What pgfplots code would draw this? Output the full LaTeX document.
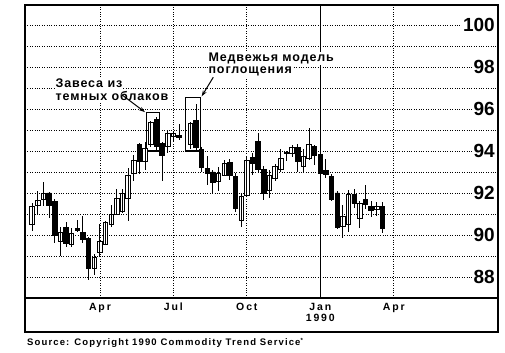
\documentclass[border=0pt]{standalone}
\usepackage{fontspec}
\setmainfont{Liberation Sans}
\newfontfamily\lsfont[LetterSpace=18]{Liberation Sans}
\newfontfamily\annfont[LetterSpace=7]{Liberation Sans}
\newfontfamily\srcfont[LetterSpace=12]{Liberation Sans}
\usepackage{pgfplots}
\usepackage{pgfplotstable}
\pgfplotsset{compat=1.18}
\usetikzlibrary{arrows.meta}

\pgfplotstableread{
w o h l c
1 90.5 91.5 90.2 91.35
2 91.4 92.1 90.95 91.65
3 91.7 92.5 91.4 92.0
4 92.0 92.05 90.8 91.4
5 91.6 91.7 89.6 90.0
6 89.7 90.4 89.0 90.1
7 90.35 90.6 89.45 89.6
8 89.55 90.35 89.45 90.05
9 90.3 90.7 90.15 90.2
10 90.1 90.9 89.6 89.8
11 89.85 89.9 87.85 88.4
12 88.4 89.1 88.1 88.95
13 89.15 90.5 89.0 89.7
14 89.55 90.65 89.5 90.6
15 90.5 91.45 90.4 91.0
16 91.0 92.2 90.95 91.75
17 91.1 92.2 91.05 92.0
18 91.75 93.2 90.65 92.85
19 92.95 93.8 92.55 93.55
20 94.3 94.4 92.9 93.5
21 93.5 94.45 93.1 94.1
22 94.3 95.45 94.2 95.35
23 95.5 95.6 94.05 94.2
24 94.35 94.45 92.55 93.8
25 94.2 94.95 93.9 94.85
26 94.68 94.95 94.45 94.84
27 94.75 95.3 94.5 94.65
29 94.3 95.4 94.1 95.3
30 95.45 96.25 94.05 94.15
31 94.05 94.2 93.0 93.2
32 93.15 93.75 92.4 92.95
33 93.0 93.1 92.0 92.5
34 92.55 93.25 92.1 92.95
35 92.85 93.55 92.8 93.4
36 93.45 93.6 92.6 92.85
37 92.8 92.95 91.1 91.25
38 90.7 91.95 90.4 91.85
39 91.9 93.75 91.85 93.55
40 93.7 93.9 92.85 93.4
41 94.45 94.85 92.95 93.1
42 93.1 93.3 91.65 92.0
43 92.1 93.1 91.75 92.85
44 92.7 93.4 92.55 93.25
45 93.1 94.1 93.0 93.65
46 93.95 94.0 93.5 93.9
47 93.9 94.3 93.7 94.15
48 94.15 94.35 93.0 93.5
49 93.25 94.1 93.0 93.75
50 93.65 95.1 93.55 94.3
51 94.2 94.3 93.35 93.8
52 93.85 94.0 92.7 92.95
53 93.05 93.6 92.7 92.9
54 92.8 92.9 91.6 91.7
55 92.0 92.1 90.3 90.35
56 90.4 91.45 89.85 90.9
57 90.5 92.15 90.15 91.95
58 91.95 92.2 91.3 91.5
59 90.8 91.6 90.35 91.5
60 91.7 92.4 91.25 91.45
61 91.35 91.6 90.85 91.15
62 91.2 91.55 90.9 91.35
63 91.35 91.55 90.1 90.3
}\ohlc

\begin{document}
\begin{tikzpicture}
\path[use as bounding box] (0bp,0bp) rectangle (505bp,353bp);
\begin{axis}[
  name=main,
  at={(25bp,55bp)}, anchor=south west,
  width=473bp, height=293bp, scale only axis,
  xmin=-0.265, xmax=83.45, ymin=87, ymax=100.95,
  enlargelimits=false,
  axis line style={line width=2.2bp},
  xtick={13,26,39,65}, xticklabels={Apr,Jul,Oct,Apr},
  extra x ticks={52}, extra x tick labels={Jan\\1990},
  extra x tick style={grid=major, major grid style={solid, line width=1.2bp, black}},
  xticklabel style={font=\lsfont\bfseries\fontsize{10.5bp}{11.5bp}\selectfont, align=center, yshift=-1.5bp},
  ytick={88,90,...,100}, minor ytick={89,91,...,99},
  yticklabel pos=right,
  yticklabel style={anchor=east, xshift=-2bp, fill=white, inner sep=1bp, font=\bfseries\fontsize{19bp}{19bp}\selectfont},
  /pgf/number format/assume math mode=true,
  grid=both,
  major grid style={black, line width=0.8bp, dash pattern=on 0.8bp off 1.6bp},
  minor grid style={black, line width=0.8bp, dash pattern=on 0.8bp off 1.6bp},
  major tick length=0pt, minor tick length=0pt,
  ybar stacked, bar width=4.5bp,
]
\addplot[fill=none, draw=none,
  error bars/.cd, y dir=both, y explicit, error mark=none,
  error bar style={draw=black, solid, line width=1bp}]
  table[x=w, y expr={min(\thisrow{o},\thisrow{c})},
        y error plus expr={\thisrow{h}-min(\thisrow{o},\thisrow{c})},
        y error minus expr={min(\thisrow{o},\thisrow{c})-\thisrow{l}}] {\ohlc};
\addplot[fill=white, draw=black, line width=0.9bp]
  table[x=w, y expr={max(\thisrow{c}-\thisrow{o},0)}] {\ohlc};
\addplot[fill=black, draw=black, line width=0.9bp]
  table[x=w, y expr={max(\thisrow{o}-\thisrow{c},0)}] {\ohlc};

\draw[line width=1.1bp] (axis cs:21.3,95.82) rectangle (axis cs:23.6,94.0);
\draw[line width=1.1bp] (axis cs:28.2,96.54) rectangle (axis cs:30.75,94.0);
\draw[-{Stealth[length=6bp,width=4bp]}, line width=1bp] (axis cs:16.9,96.67) -- (axis cs:20.97,95.85);
\draw[-{Stealth[length=6bp,width=4bp]}, line width=1bp] (axis cs:33.06,97.51) -- (axis cs:31.0,96.6);

\node[anchor=base west, fill=white, inner xsep=0.5bp, inner ysep=1bp, font=\annfont\bfseries\fontsize{12.5bp}{13bp}\selectfont] at (axis cs:5.04,97.0) {Завеса из};
\node[anchor=base west, fill=white, inner xsep=0.5bp, inner ysep=1bp, font=\annfont\bfseries\fontsize{12.5bp}{13bp}\selectfont] at (axis cs:5.04,96.38) {темных облаков};
\node[anchor=base west, fill=white, inner xsep=0.5bp, inner ysep=1bp, font=\annfont\bfseries\fontsize{12.5bp}{13bp}\selectfont] at (axis cs:32.1,98.26) {Медвежья модель};
\node[anchor=base west, fill=white, inner xsep=0.5bp, inner ysep=1bp, font=\annfont\bfseries\fontsize{12.5bp}{13bp}\selectfont] at (axis cs:32.1,97.69) {поглощения};
\end{axis}
\draw[line width=2.5bp, line join=miter] (main.south west) -- ++(0bp,-34bp) -- ([yshift=-34bp]main.south east) -- (main.south east);
\node[anchor=west, inner sep=0pt, font=\srcfont\bfseries\fontsize{9.5bp}{10bp}\selectfont] at (27bp,10bp) {Source: Copyright 1990 Commodity Trend Service\raisebox{2.5bp}{\fontsize{6bp}{6bp}\selectfont *}};
\end{tikzpicture}
\end{document}
